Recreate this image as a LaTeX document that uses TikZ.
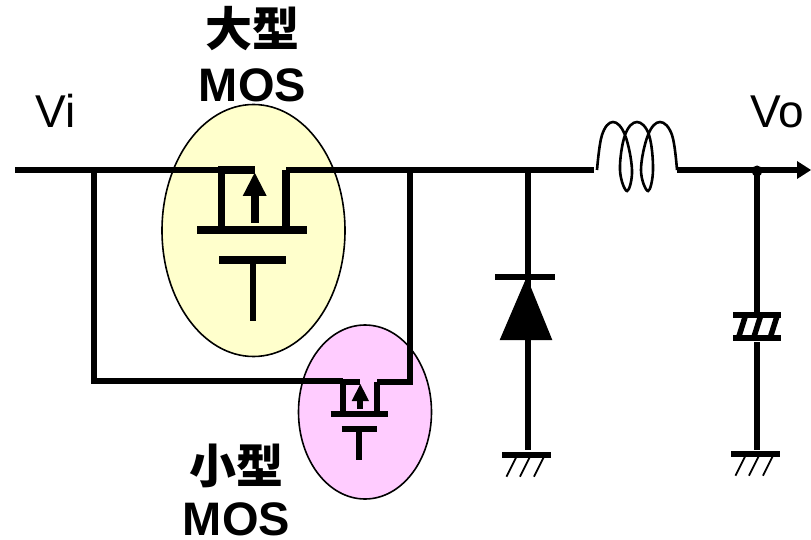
\documentclass[tikz,border=0pt]{standalone}
\usepackage{fontspec}
\setmainfont{Liberation Sans}
\newfontfamily\cjk{Noto Sans CJK SC}
\definecolor{bigfill}{RGB}{255,255,204}
\definecolor{smallfill}{RGB}{255,204,255}
\tikzset{
	wire/.style={line width=6pt},
	bigwire/.style={line width=7.5pt},
	thinwire/.style={line width=2.6pt},
	lbl/.style={inner sep=0pt,font=\fontsize{46}{46}\selectfont},
	bold lbl/.style={inner sep=0pt,font=\fontsize{47}{47}\selectfont\bfseries},
	pics/gnd/.style args={#1:#2}{
		code={
			\draw[wire] (-#1,0) -- (#1,0);
			\foreach \x in {-20,-6.5,7.5}{
				\draw[line width=1.8pt] (\x+9.5,3) -- (\x,#2);
			}
		}
	}
}

\begin{document}
\begin{tikzpicture}[x=1pt,y=-1pt]
	\useasboundingbox (0,0) rectangle (811,540);
	%% ellipses
	\draw[line width=1.6pt,fill=bigfill] (253.5,230.5) ellipse (91.5 and 126);
	\draw[line width=1.6pt,fill=smallfill] (365,412) ellipse (66.5 and 87);

	%% main line
	\coordinate (vin) at (15,170);
	\coordinate (bigs) at (221.5,170);
	\coordinate (bigd) at (286,170);
	\coordinate (lnode) at (94,170);
	\coordinate (rnode) at (410,170);
	\coordinate (dnode) at (528,170);
	\coordinate (lin) at (594,170);
	\coordinate (lout) at (677,170);
	\coordinate (cnode) at (757,171);
	\coordinate (vout) at (811,170);
	\draw[wire] (vin) -- (bigs);
	\draw[wire] (bigd) -- (lin);
	\draw[wire] (lnode) -- (94,381) -- (343,381);
	\draw[wire] (rnode) -- (410,382) -- (377,382);

	%% big mos
	\draw[line width=8pt] (197,230.3) -- (307,230.3);
	\draw[bigwire] (221.5,230) -- (bigs) -- (255,170);
	\draw[bigwire] (286,230) -- (bigd);
	\draw[line width=8pt] (254.7,222.7) -- (254.7,190);
	\fill (254.7,172.7) -- (266.7,196) -- (242.7,196) -- cycle;
	\draw[line width=8pt] (219,260) -- (286,260);
	\draw[line width=6.5pt] (253,260) -- (253,320.7);

	%% small mos
	\draw[wire] (330.7,413.5) -- (387.7,413.5);
	\draw[wire] (343,413.5) -- (343,382) -- (360,382);
	\draw[wire] (377,413.5) -- (377,382);
	\draw[line width=5.7pt] (360.3,409) -- (360.3,396);
	\fill (360.3,384) -- (369,401) -- (351.7,401) -- cycle;
	\draw[wire] (341.7,428.5) -- (376.7,428.5);
	\draw[wire] (359,428.5) -- (359,459.7);

	%% coil
	\draw[thinwire] plot[smooth,tension=0.65] coordinates {(597,170) (602,135) (613,122) (625,135) (632,170) (627,191) (620,170) (625,135) (637,122) (649,135) (653,170) (648,191) (641,170) (648,135) (660,122) (672,135) (677,170)};

	%% output
	\draw[wire] (lout) -- (797,170);
	\fill (vout) -- (797,161) -- (797,179) -- cycle;
	\fill (cnode) circle (5.5);

	%% diode
	\draw[wire] (dnode) -- (528,450);
	\draw[wire] (495,277) -- (555,277);
	\fill (526.7,277) -- (552.3,340) -- (499.7,340) -- cycle;
	\path (526.5,454.7) pic{gnd=24.5:22};

	%% capacitor
	\draw[wire] (cnode) -- (757,311.7);
	\draw[wire] (757,342) -- (757,450);
	\draw[wire] (733.3,314.7) -- (780.7,314.7);
	\draw[wire] (733.3,338.3) -- (780.7,338.3);
	\foreach \x in {738.3,753.5,770}{
		\draw[line width=5.5pt] (\x,338.3) -- (\x+7.5,314.7);
	}
	\path (755.5,453.7) pic{gnd=24.5:22};

	%% labels
	\node[lbl,anchor=base west] (vi) at (35,128) {Vi};
	\node[lbl,anchor=base west] (vo) at (750,128) {Vo};
	\node[bold lbl,anchor=base] (bigcn) at (252,47) {\cjk 大型};
	\node[bold lbl,anchor=base] (bigmos) at (252.5,102) {MOS};
	\node[bold lbl,anchor=base] (smallcn) at (236,483) {\cjk 小型};
	\node[bold lbl,anchor=base] (smallmos) at (236.5,535) {MOS};
\end{tikzpicture}
\end{document}
